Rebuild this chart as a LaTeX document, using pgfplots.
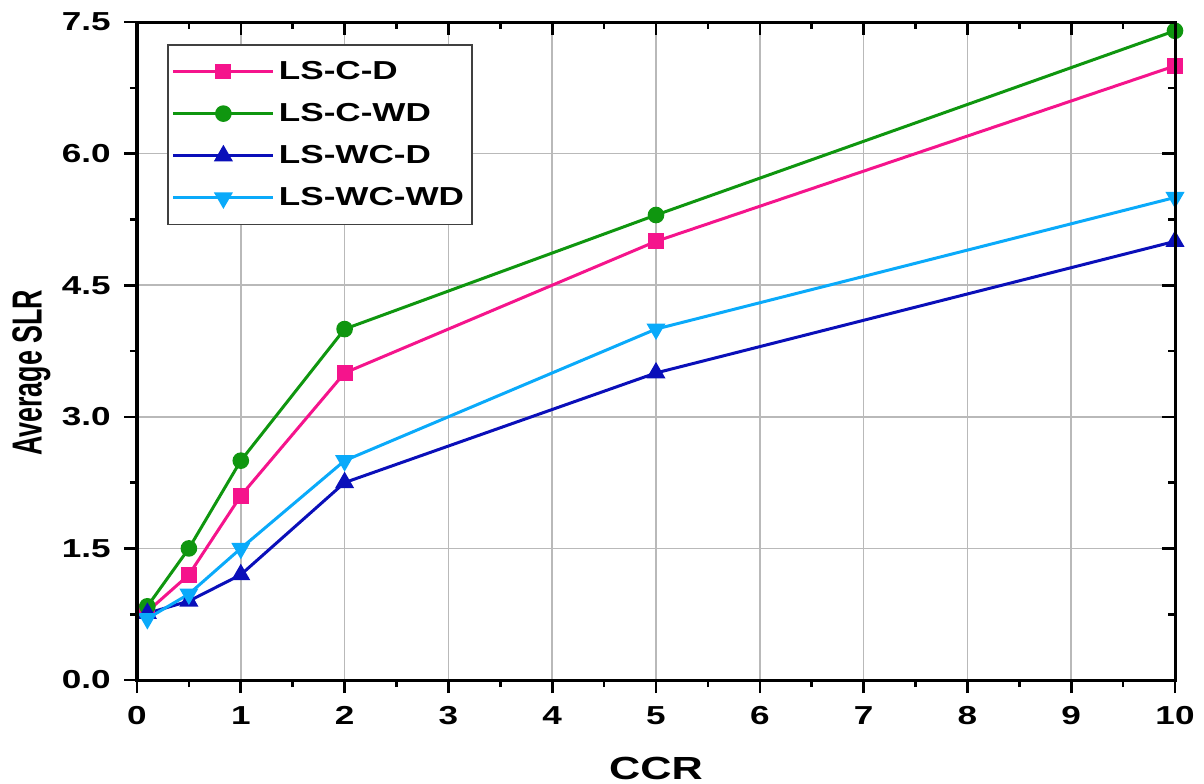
\documentclass[border=0pt]{standalone}
\usepackage{fontspec}
\setmainfont{Liberation Sans}[FakeStretch=1.35]
\newfontfamily\yfont{Liberation Sans}[FakeStretch=0.64]
\usepackage{pgfplots}
\pgfplotsset{compat=1.18}
\definecolor{cpink}{RGB}{245,20,140}
\definecolor{cgreen}{RGB}{15,150,15}
\definecolor{cblue}{RGB}{10,15,185}
\definecolor{ccyan}{RGB}{10,170,250}
\pgfplotsset{
  frame/.style={
    scale only axis, width=519pt, height=329pt,
    xmin=0, xmax=10, ymin=0, ymax=7.5,
    xtick={0,1,...,10}, ytick={0,1.5,3,4.5,6,7.5},
    minor x tick num=1, minor y tick num=1,
    major tick length=6.5pt, minor tick length=3.5pt,
    every tick/.style={black, line width=1.3pt},
    axis line style={line width=1.5pt},
  }
}
\begin{document}
\begin{tikzpicture}
\useasboundingbox (-68.5pt,-51.5pt) rectangle (533.5pt,340pt);
\begin{axis}[frame,
    tick align=outside, xtick pos=bottom, ytick pos=left,
    xmajorgrids, ymajorgrids, xminorgrids=false, yminorgrids=false,
    grid style={gray!55, line width=0.75pt},
    /pgf/number format/assume math mode=true,
    ticklabel style={font=\fontsize{13}{15}\selectfont\bfseries, inner sep=0pt},
    xticklabel style={anchor=north, yshift=-6.5pt},
    yticklabel style={anchor=east, xshift=-6.5pt,
      /pgf/number format/.cd, fixed, fixed zerofill, precision=1},
    xlabel={CCR}, ylabel={Average SLR},
    xlabel style={font=\fontsize{16}{18}\selectfont\bfseries, inner sep=0pt,
      at={(axis description cs:0.5,0)}, anchor=center, yshift=-44pt},
    ylabel style={font=\fontsize{21}{24}\selectfont\yfont\bfseries, inner sep=0pt,
      at={(axis description cs:0,0.467)}, anchor=north, yshift=62.5pt},
    legend style={at={(0.0289,0.9666)}, anchor=north west, draw=black!75, line width=0.9pt,
      font=\fontsize{13}{15}\selectfont\bfseries, row sep=6.5pt,
      inner xsep=2pt, inner ysep=6pt},
    legend cell align=left,
    legend image code/.code={\draw[mark repeat=2,mark phase=2] plot coordinates {(0pt,0pt)(25pt,0pt)(50pt,0pt)};},
  ]
\addplot[cpink, line width=1.5pt, mark=square*, mark size=3.2pt] coordinates {
  (0.1,0.78)(0.5,1.2)(1,2.1)(2,3.5)(5,5.0)(10,7.0)};
\addlegendentry{LS-C-D}
\addplot[cgreen, line width=1.5pt, mark=*, mark size=3.4pt] coordinates {
  (0.1,0.84)(0.5,1.5)(1,2.5)(2,4.0)(5,5.3)(10,7.4)};
\addlegendentry{LS-C-WD}
\addplot[cblue, line width=1.5pt, mark=triangle*, mark size=4pt] coordinates {
  (0.1,0.76)(0.5,0.9)(1,1.2)(2,2.25)(5,3.5)(10,5.0)};
\addlegendentry{LS-WC-D}
\addplot[ccyan, line width=1.5pt, mark=triangle*, mark size=4pt, mark options={rotate=180}] coordinates {
  (0.1,0.7)(0.5,0.98)(1,1.5)(2,2.5)(5,4.0)(10,5.5)};
\addlegendentry{LS-WC-WD}
\end{axis}
\begin{axis}[frame, tick align=inside, xtick pos=top, ytick pos=right,
    xticklabels={}, yticklabels={}]
\end{axis}
\end{tikzpicture}
\end{document}
